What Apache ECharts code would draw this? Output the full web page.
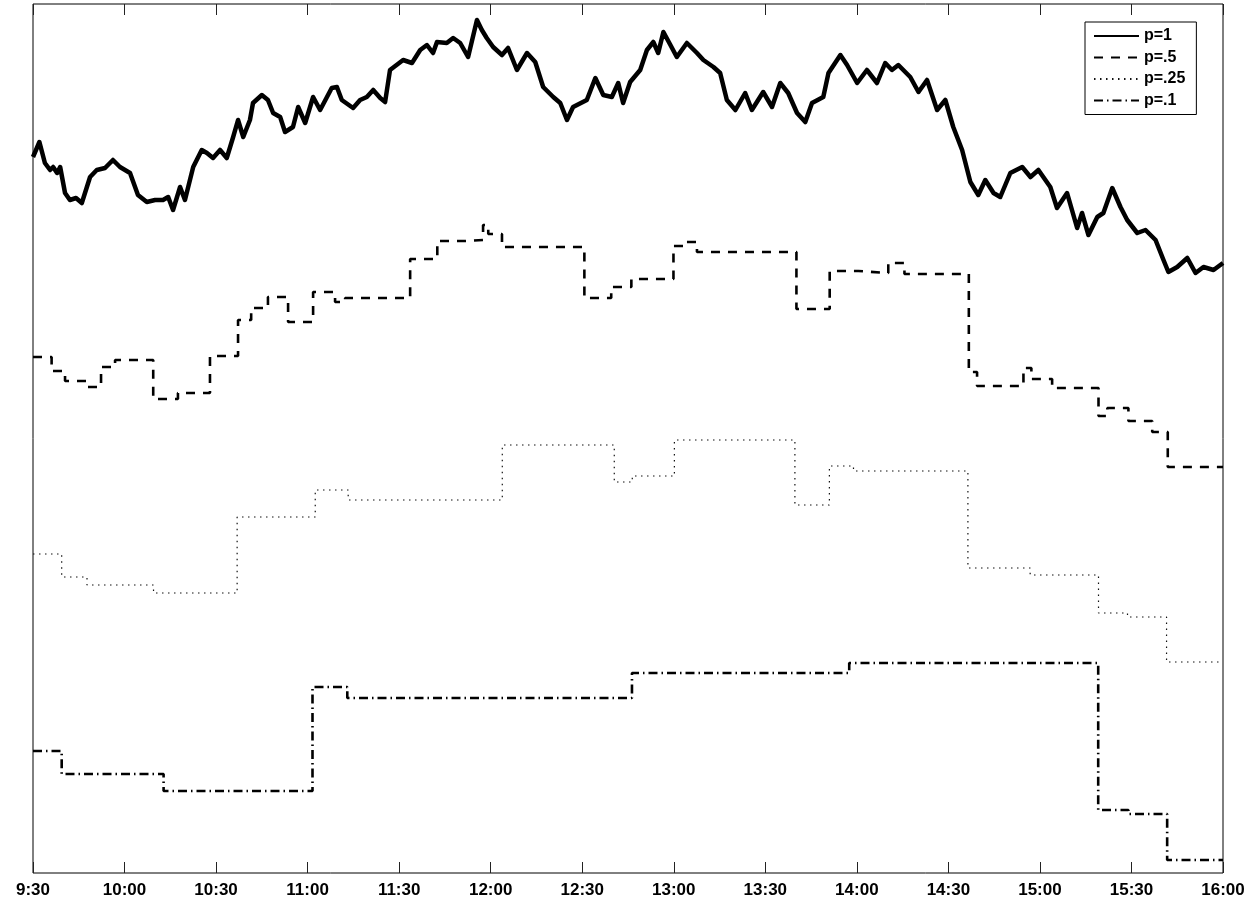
<!DOCTYPE html>
<html><head><meta charset="utf-8">
<script src="https://cdn.jsdelivr.net/npm/echarts@6/dist/echarts.min.js"></script>
<style>html,body{margin:0;padding:0;background:#fff}#c{width:1251px;height:903px}</style>
</head><body><div id="c"></div>
<script>
// x: minutes after 9:30 ; y: arbitrary price units (no y tick labels in the original)
const tickLabels = ['9:30','10:00','10:30','11:00','11:30','12:00','12:30','13:00','13:30','14:00','14:30','15:00','15:30','16:00'];
const seriesNames = ['p=1','p=.5','p=.25','p=.1'];

const p1Times = [
  0,2.1,3.9,5.6,6.6,7.9,8.9,10.5,12.1,14.1,
  16.0,18.7,20.9,23.6,26.2,28.5,31.8,34.4,37.3,40.0,
  42.6,44.3,45.9,48.2,49.8,52.5,55.3,57.0,59.0,61.3,
  63.5,65.6,67.2,68.9,71.1,72.1,75.0,77.0,78.7,81.0,
  82.6,85.2,86.9,89.2,91.8,94.1,97.9,99.6,101.2,104.9,
  107.2,109.4,111.5,113.8,115.4,117.0,121.3,124.2,126.9,129.1,
  131.1,132.4,135.6,137.7,140.0,142.6,145.5,147.1,148.7,150.8,
  153.7,155.7,158.6,161.9,164.6,167.2,170.5,172.8,175.0,177.0,
  181.5,184.3,186.9,189.7,191.8,193.4,195.7,199.0,201.2,203.3,
  204.9,206.6,208.9,211.0,214.3,217.6,219.7,223.0,225.2,227.4,
  230.2,233.4,235.6,239.3,242.2,244.9,247.5,250.4,253.1,255.3,
  259.0,260.7,264.6,266.8,270.1,273.3,276.6,279.3,281.5,283.6,
  287.5,290.2,293.0,296.3,299.0,301.6,304.5,307.2,309.8,312.1,
  314.8,317.0,320.3,324.2,326.9,329.5,333.4,335.6,338.9,342.2,
  343.8,345.9,348.8,350.8,353.7,356.4,358.6,361.9,364.6,367.9,
  370.5,372.1,375.0,378.3,381.0,383.6,386.9,390
];
const p1Values = [
  71.6,73.1,71.0,70.3,70.6,70.0,70.6,68.0,67.3,67.5,
  67.0,69.6,70.3,70.5,71.3,70.6,70.0,67.8,67.1,67.3,
  67.3,67.6,66.3,68.6,67.3,70.6,72.3,72.0,71.5,72.3,
  71.5,73.6,75.3,73.6,75.3,77.0,77.8,77.3,76.0,75.6,
  74.1,74.6,76.6,75.0,77.6,76.3,78.5,78.6,77.3,76.5,
  77.3,77.6,78.3,77.5,77.1,80.3,81.3,81.0,82.3,82.8,
  82.0,83.1,83.0,83.5,83.0,81.6,85.3,84.3,83.5,82.6,
  81.8,82.5,80.3,82.0,81.1,78.6,77.6,77.0,75.3,76.6,
  77.3,79.5,77.8,77.6,79.0,77.0,79.1,80.3,82.3,83.1,
  82.0,84.1,82.8,81.6,83.0,82.0,81.3,80.6,80.0,77.3,
  76.3,78.0,76.3,78.1,76.6,79.0,78.0,76.0,75.1,77.0,
  77.6,80.0,81.8,80.8,79.0,80.3,79.0,81.0,80.3,80.8,
  79.6,78.1,79.3,76.3,77.3,74.6,72.3,69.1,67.8,69.3,
  68.0,67.6,70.0,70.6,69.6,70.3,68.6,66.5,68.0,64.5,
  66.0,63.8,65.6,66.0,68.5,66.6,65.3,64.0,64.3,63.3,
  61.3,60.1,60.6,61.5,60.0,60.6,60.3,61.0
];

const p50Times = [
  0,6.1,10.5,17.4,22.3,26.9,39.4,47.5,58.0,67.2,
  71.5,77.0,83.6,91.8,99.0,102.3,123.6,132.5,141.6,147.5,
  149.2,153.7,180.7,189.5,196.1,209.9,214.1,217.6,250.2,261.1,
  270.5,280.3,285.6,306.7,309.4,324.6,327.2,334.0,349.2,352.1,
  359.0,366.8,371.9,390
];
const p50Values = [
  51.6,50.2,49.2,48.6,50.6,51.3,47.4,48.0,51.7,55.3,
  56.5,57.6,55.1,58.1,57.1,57.5,61.4,63.2,63.3,64.8,
  63.9,62.6,57.5,58.6,59.4,62.7,63.1,62.1,56.4,60.2,
  60.0,61.0,59.9,50.1,48.7,50.5,49.4,48.5,45.7,46.5,
  45.2,44.1,40.6,40.6
];

const p25Times = [0,9.4,17.7,39.5,66.9,92.5,103.3,153.8,190.5,196.4,210.2,249.7,261.0,268.9,306.4,326.8,349.2,358.7,371.5,390];
const p25Values = [31.9,29.6,28.8,28.0,35.6,38.3,37.3,42.8,39.1,39.7,43.3,36.8,40.7,40.2,30.5,29.8,26.0,25.6,21.1,21.1];

const p10Times = [0,9.4,42.8,91.6,103.0,196.3,267.5,349.1,359.0,371.7,390];
const p10Values = [12.2,9.9,8.2,18.6,17.5,20.0,21.0,6.3,5.9,1.3,1.3];

function pairs(t, v) { return t.map((x, i) => [x, v[i]]); }

const FONT = '"Liberation Sans", Arial, Helvetica, sans-serif';
const chart = echarts.init(document.getElementById('c'), null, {renderer: 'canvas'});

const xCommon = {
  type: 'value', min: 0, max: 390, interval: 30,
  axisLine: {show: false},
  axisTick: {show: true, inside: true, length: 11, lineStyle: {color: '#222', width: 1}},
  splitLine: {show: false}
};

chart.setOption({
  animation: false,
  backgroundColor: '#fff',
  grid: {left: 33, right: 28, top: 4, bottom: 30, show: true, borderColor: '#000', borderWidth: 1, backgroundColor: 'transparent'},
  xAxis: [
    Object.assign({}, xCommon, {
      position: 'bottom',
      axisLabel: {
        show: true, margin: 9, color: '#000', fontFamily: FONT, fontWeight: 'bold', fontSize: 17,
        formatter: v => tickLabels[Math.round(v / 30)] || ''
      }
    }),
    Object.assign({}, xCommon, {position: 'top', axisLabel: {show: false}})
  ],
  yAxis: {
    type: 'value', min: 0, max: 86.9,
    axisLine: {show: false}, axisTick: {show: false}, axisLabel: {show: false}, splitLine: {show: false}
  },
  legend: {
    orient: 'vertical', left: 1085, top: 22,
    padding: [6, 11, 6, 8],
    itemWidth: 45, itemHeight: 14, itemGap: 5.5,
    borderColor: '#000', borderWidth: 1, backgroundColor: '#fff',
    itemStyle: {opacity: 0, color: 'transparent', borderWidth: 0},
    textStyle: {color: '#000', fontFamily: FONT, fontWeight: 'bold', fontSize: 16},
    data: seriesNames
  },
  series: [
    {name: seriesNames[0], type: 'line', data: pairs(p1Times, p1Values), symbol: 'none', showSymbol: false,
     lineStyle: {color: '#000', width: 4.5, join: 'round'}, itemStyle: {color: '#000'}, z: 5},
    {name: seriesNames[1], type: 'line', step: 'end', data: pairs(p50Times, p50Values), symbol: 'none', showSymbol: false,
     lineStyle: {color: '#000', width: 2.6, type: [9, 8]}, itemStyle: {color: '#000'}},
    {name: seriesNames[2], type: 'line', step: 'end', data: pairs(p25Times, p25Values), symbol: 'none', showSymbol: false,
     lineStyle: {color: '#111', width: 1.2, type: [1.5, 4.5]}, itemStyle: {color: '#000'}},
    {name: seriesNames[3], type: 'line', step: 'end', data: pairs(p10Times, p10Values), symbol: 'none', showSymbol: false,
     lineStyle: {color: '#000', width: 2.6, type: [9, 4, 1.5, 4]}, itemStyle: {color: '#000'}}
  ]
});
</script>
</body></html>
